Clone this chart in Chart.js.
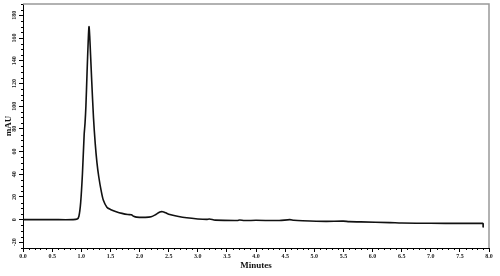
<!DOCTYPE html>
<html lang="en">
<head>
<meta charset="UTF-8">
<title>Chromatogram</title>
<script src="https://cdn.jsdelivr.net/npm/chart.js@4.4.1/dist/chart.umd.min.js"></script>
<style>
  html, body { margin: 0; padding: 0; background: #fff; }
  #wrap { width: 500px; height: 276px; }
</style>
</head>
<body>
<div id="wrap"><canvas id="chrom"></canvas></div>
<script>
// retention time (min) and detector response (mAU)
const times = [0, 0.5, 0.85, 0.93, 0.96, 0.99, 1.02, 1.05, 1.065, 1.08, 1.1, 1.12, 1.133, 1.145,
  1.16, 1.18, 1.21, 1.24, 1.27, 1.3, 1.34, 1.38, 1.44, 1.5, 1.6, 1.7, 1.8, 1.86, 1.9, 1.95,
  2.1, 2.2, 2.28, 2.35, 2.4, 2.45, 2.52, 2.65, 2.81, 3.0, 3.15, 3.2, 3.3, 3.68, 3.72, 3.8,
  4.0, 4.4, 4.58, 4.65, 4.8, 5.2, 5.5, 5.6, 5.8, 6.3, 6.5, 7.0, 7.5, 7.9];
const mau = [0, 0, 0, 0.5, 3, 15, 40, 75, 85, 100, 130, 158, 170, 162,
  145, 122, 90, 67, 50, 38, 26, 17, 11, 9, 7, 5.5, 4.5, 4.3, 3, 2.2,
  2, 2.5, 4.5, 6.8, 7, 6, 4.5, 3, 1.6, 0.6, 0.2, 0.6, -0.4, -0.8, -0.3, -0.8,
  -0.6, -0.8, 0, -0.6, -1, -1.5, -1.3, -1.8, -2, -2.6, -3, -3.2, -3.3, -3.3];
// event marker at the end of the run
const markerTime = [7.9, 7.9];
const markerMau = [-3.3, -6.8];

const xTicks = [0, 0.5, 1, 1.5, 2, 2.5, 3, 3.5, 4, 4.5, 5, 5.5, 6, 6.5, 7, 7.5, 8];
const yTicks = [-20, 0, 20, 40, 60, 80, 100, 120, 140, 160, 180];

const serif = '"Liberation Serif", "DejaVu Serif", serif';

// rotated y labels, minor ticks and the grey frame
const extras = {
  id: 'extras',
  afterDraw(chart) {
    const ctx = chart.ctx;
    const xs = chart.scales.x, ys = chart.scales.y;
    const a = chart.chartArea;
    ctx.save();
    ctx.strokeStyle = '#000';
    ctx.lineWidth = 1;
    ctx.beginPath();
    for (let i = 1; i < 80; i++) {
      if (i % 5 === 0) continue;
      const px = Math.round(xs.getPixelForValue(i / 10)) + 0.5;
      ctx.moveTo(px, a.bottom); ctx.lineTo(px, a.bottom + 2);
    }
    for (let v = -25; v <= 190; v += 5) {
      if (v % 20 === 0) continue;
      const py = Math.round(ys.getPixelForValue(v)) + 0.5;
      ctx.moveTo(a.left, py); ctx.lineTo(a.left - 2, py);
    }
    ctx.stroke();

    ctx.strokeStyle = '#999';
    ctx.lineWidth = 1.5;
    ctx.beginPath();
    ctx.moveTo(a.left, a.top); ctx.lineTo(a.right, a.top); ctx.lineTo(a.right, a.bottom);
    ctx.stroke();

    ctx.fillStyle = '#222';
    ctx.font = 'bold 6px ' + serif;
    ctx.textAlign = 'center';
    ctx.textBaseline = 'middle';
    yTicks.forEach(v => {
      const py = ys.getPixelForValue(v);
      ctx.save();
      ctx.translate(14, py);
      ctx.rotate(-Math.PI / 2);
      ctx.fillText(String(v), 0, 0);
      ctx.restore();
    });
    ctx.restore();
  }
};

new Chart(document.getElementById('chrom'), {
  type: 'line',
  data: {
    datasets: [{
      data: times.map((t, i) => ({ x: t, y: mau[i] })),
      borderColor: '#111',
      borderWidth: 1.6,
      pointRadius: 0,
      tension: 0.3,
      fill: false
    }, {
      data: markerTime.map((t, i) => ({ x: t, y: markerMau[i] })),
      borderColor: '#111',
      borderWidth: 1,
      pointRadius: 0
    }]
  },
  options: {
    responsive: true,
    maintainAspectRatio: false,
    animation: false,
    layout: { padding: { top: 4, right: 11, left: 0, bottom: 0 } },
    plugins: { legend: { display: false }, tooltip: { enabled: false } },
    scales: {
      x: {
        type: 'linear',
        min: 0,
        max: 8,
        afterBuildTicks: s => { s.ticks = xTicks.map(v => ({ value: v })); },
        afterFit: s => { s.height = 28; },
        ticks: {
          color: '#222',
          padding: 1,
          maxRotation: 0,
          font: { family: serif, size: 6, weight: 'bold' },
          callback: v => Number(v).toFixed(1)
        },
        grid: { drawOnChartArea: false, color: '#000', tickLength: 4 },
        border: { color: '#000', width: 1 },
        title: {
          display: true,
          text: 'Minutes',
          color: '#111',
          font: { family: serif, size: 9, weight: 'bold' },
          padding: { top: 0, bottom: 5 }
        }
      },
      y: {
        min: -25,
        max: 190,
        afterBuildTicks: s => { s.ticks = yTicks.map(v => ({ value: v })); },
        afterFit: s => { s.width = 23; },
        ticks: { display: false },
        grid: { drawOnChartArea: false, color: '#000', tickLength: 4 },
        border: { color: '#000', width: 1 },
        title: {
          display: true,
          text: 'mAU',
          color: '#111',
          font: { family: serif, size: 9, weight: 'bold' },
          padding: { top: 3, bottom: 0 }
        }
      }
    }
  },
  plugins: [extras]
});
</script>
</body>
</html>
